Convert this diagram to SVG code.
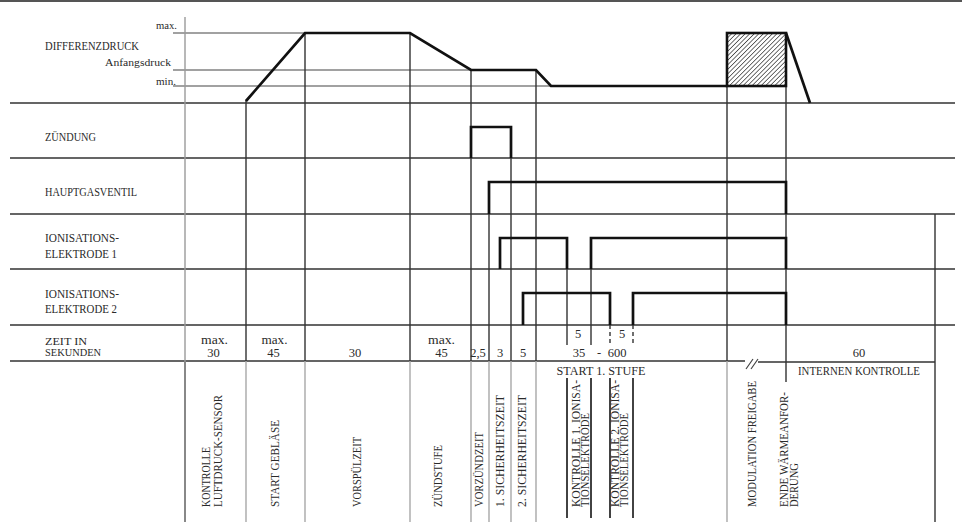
<svg xmlns="http://www.w3.org/2000/svg" width="962" height="529" viewBox="0 0 962 529">
<defs>
<style>
.row{stroke:#333;stroke-width:1.5;fill:none}
.ref{stroke:#444;stroke-width:1.2;fill:none}
.v{stroke:#333;stroke-width:1.4;fill:none}
.vg{stroke:#a8a8a8;stroke-width:1.4;fill:none}
.vd{stroke:#222;stroke-width:1.7;fill:none}
.sig{stroke:#111;stroke-width:2.7;fill:none;stroke-linejoin:miter}
.t{font-family:"Liberation Serif","DejaVu Serif",serif;font-size:12.5px;fill:#2a2a2a}
.k{font-family:"Liberation Serif","DejaVu Serif",serif;font-size:11px;fill:#2a2a2a}
.s{font-family:"Liberation Serif","DejaVu Serif",serif;font-size:10.5px;fill:#2a2a2a}
.m{text-anchor:middle}
.e{text-anchor:end}
</style>
<pattern id="hatch" patternUnits="userSpaceOnUse" width="3.2" height="3.2" patternTransform="rotate(45)">
<line x1="0" y1="0" x2="0" y2="3.2" stroke="#222" stroke-width="1.3"/>
</pattern>
</defs>
<rect width="962" height="529" fill="#fff"/>
<line x1="0" y1="1" x2="962" y2="1" stroke="#555" stroke-width="2"/>

<g id="grid">
<path class="row" d="M10 103H955M10 158H955M10 214H955M10 269H955M10 325H955M10 361H745M758 362H935"/>
<path class="ref" d="M173 33H305M173 70H471M173 86H551"/>
<path d="M185 17V361" stroke="#9a9a9a" stroke-width="1.4"/>
<path d="M185 361V522" stroke="#888" stroke-width="2"/>
<path class="v" d="M246 100V361M305 33V361M410 33V361M471 70V361M489 182V361M511 127V361M536 70V361M567 238V345M591 238V345M727 86V361M786 33V382M935 214V522"/>
<path class="v" stroke-dasharray="4,3" d="M610 325V345M633 325V345"/>
<path class="vg" d="M246 361V522M305 361V522M410 361V522M471 361V522M489 361V522M511 361V522M536 361V522M727 361V522"/>
<path class="vd" d="M567 378V518M591 378V518M610 378V518M633 378V518"/>
<path stroke="#444" stroke-width="1.2" d="M746 369L753 359M751 369L758 359"/>
</g>

<g id="signals">
<polyline class="sig" points="246,101 305,33 410,33 471,70 536,70 551,86 727,86"/>
<rect x="727" y="33" width="59" height="53" fill="url(#hatch)" stroke="#111" stroke-width="2.6"/>
<line class="sig" x1="786" y1="33" x2="810" y2="103"/>
<polyline class="sig" points="471,158 471,127 511,127 511,158"/>
<polyline class="sig" points="489,214 489,182 786,182 786,214"/>
<polyline class="sig" points="500,269 500,238 567,238 567,269"/>
<polyline class="sig" points="591,269 591,238 786,238 786,269"/>
<polyline class="sig" points="523,325 523,293 610,293 610,325"/>
<polyline class="sig" points="633,325 633,293 786,293 786,325"/>
</g>

<g id="labels-left">
<text class="t" x="45" y="50" textLength="94" lengthAdjust="spacingAndGlyphs">DIFFERENZDRUCK</text>
<text class="s e" x="177" y="28.5" textLength="21" lengthAdjust="spacingAndGlyphs">max.</text>
<text class="s e" x="171" y="66" textLength="66" lengthAdjust="spacingAndGlyphs">Anfangsdruck</text>
<text class="s e" x="176" y="85" textLength="20" lengthAdjust="spacingAndGlyphs">min.</text>
<text class="t" x="45" y="140.5" textLength="51" lengthAdjust="spacingAndGlyphs">ZÜNDUNG</text>
<text class="t" x="45" y="196" textLength="92" lengthAdjust="spacingAndGlyphs">HAUPTGASVENTIL</text>
<text class="t" x="45" y="241.5" textLength="74" lengthAdjust="spacingAndGlyphs">IONISATIONS-</text>
<text class="t" x="45" y="257.5" textLength="72" lengthAdjust="spacingAndGlyphs">ELEKTRODE 1</text>
<text class="t" x="45" y="297.5" textLength="74" lengthAdjust="spacingAndGlyphs">IONISATIONS-</text>
<text class="t" x="45" y="313" textLength="72" lengthAdjust="spacingAndGlyphs">ELEKTRODE 2</text>
<text class="k" x="45" y="344.5" textLength="42" lengthAdjust="spacingAndGlyphs">ZEIT IN</text>
<text class="k" x="45" y="356" textLength="56" lengthAdjust="spacingAndGlyphs">SEKUNDEN</text>
</g>

<g id="times">
<text class="t m" x="214.5" y="344" textLength="27" lengthAdjust="spacingAndGlyphs">max.</text>
<text class="t m" x="213.5" y="356.5">30</text>
<text class="t m" x="274.5" y="344" textLength="26" lengthAdjust="spacingAndGlyphs">max.</text>
<text class="t m" x="273.5" y="356.5">45</text>
<text class="t m" x="355" y="356.5">30</text>
<text class="t m" x="441.5" y="344" textLength="27" lengthAdjust="spacingAndGlyphs">max.</text>
<text class="t m" x="441.5" y="356.5">45</text>
<text class="t m" x="478" y="356.5">2,5</text>
<text class="t m" x="500" y="356.5">3</text>
<text class="t m" x="523" y="356.5">5</text>
<text class="t m" x="578" y="338">5</text>
<text class="t m" x="622" y="338">5</text>
<text class="t m" x="579" y="356.5">35</text>
<text class="t m" x="599" y="356.5">-</text>
<text class="t m" x="617" y="356.5">600</text>
<text class="t m" x="859" y="356.5">60</text>
<text class="t m" x="601" y="375" textLength="89" lengthAdjust="spacingAndGlyphs">START 1. STUFE</text>
<text class="t m" x="859" y="375" textLength="122" lengthAdjust="spacingAndGlyphs">INTERNEN KONTROLLE</text>
</g>

<g id="phases">
<text class="t" transform="translate(210,507) rotate(-90)" textLength="60" lengthAdjust="spacingAndGlyphs">KONTROLLE</text>
<text class="t" transform="translate(222,507) rotate(-90)" textLength="112" lengthAdjust="spacingAndGlyphs">LUFTDRUCK-SENSOR</text>
<text class="t" transform="translate(279,507) rotate(-90)" textLength="87" lengthAdjust="spacingAndGlyphs">START GEBLÄSE</text>
<text class="t" transform="translate(361,507) rotate(-90)" textLength="70" lengthAdjust="spacingAndGlyphs">VORSPÜLZEIT</text>
<text class="t" transform="translate(442,507) rotate(-90)" textLength="62" lengthAdjust="spacingAndGlyphs">ZÜNDSTUFE</text>
<text class="t" transform="translate(483,507) rotate(-90)" textLength="75" lengthAdjust="spacingAndGlyphs">VORZÜNDZEIT</text>
<text class="t" transform="translate(504,507) rotate(-90)" textLength="112" lengthAdjust="spacingAndGlyphs">1. SICHERHEITSZEIT</text>
<text class="t" transform="translate(526,507) rotate(-90)" textLength="112" lengthAdjust="spacingAndGlyphs">2. SICHERHEITSZEIT</text>
<text class="t" transform="translate(579.5,507) rotate(-90)" textLength="127" lengthAdjust="spacingAndGlyphs">KONTROLLE 1. IONISA-</text>
<text class="t" transform="translate(588.5,507) rotate(-90)" textLength="94" lengthAdjust="spacingAndGlyphs">TIONSELEKTRODE</text>
<text class="t" transform="translate(619,507) rotate(-90)" textLength="127" lengthAdjust="spacingAndGlyphs">KONTROLLE 2. IONISA-</text>
<text class="t" transform="translate(628,507) rotate(-90)" textLength="94" lengthAdjust="spacingAndGlyphs">TIONSELEKTRODE</text>
<text class="t" transform="translate(756,507) rotate(-90)" textLength="126" lengthAdjust="spacingAndGlyphs">MODULATION FREIGABE</text>
<text class="t" transform="translate(788,507) rotate(-90)" textLength="115" lengthAdjust="spacingAndGlyphs">ENDE WÄRMEANFOR-</text>
<text class="t" transform="translate(797.5,507) rotate(-90)" textLength="44" lengthAdjust="spacingAndGlyphs">DERUNG</text>
</g>
</svg>
